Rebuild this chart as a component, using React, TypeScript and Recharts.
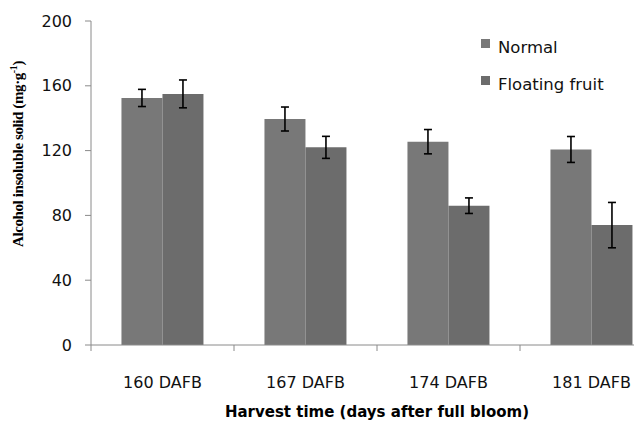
import {Bar, BarChart, ErrorBar, Label, Legend, XAxis, YAxis} from 'recharts'

const categories = ['160 DAFB', '167 DAFB', '174 DAFB', '181 DAFB']
const normal = [152.5, 139.5, 125.5, 120.7]
const normalErr = [5.3, 7.4, 7.5, 8]
const floating = [155, 122, 86, 74]
const floatingErr = [8.6, 6.8, 4.8, 14]
const yTicks = [0, 40, 80, 120, 160, 200]

const seriesNames = ['Normal', 'Floating fruit']
const seriesColors = ['#787878', '#6c6c6c']

const data = categories.map((name, i) => ({
  name,
  normal: normal[i],
  normalErr: normalErr[i],
  floating: floating[i],
  floatingErr: floatingErr[i]
}))

const sans = 'DejaVu Sans, sans-serif'
const axisColor = '#8a8a8a'

// tick label at the category centre, tick mark on the category boundary
const CategoryTick = (props: any) => {
  const {x, y, payload} = props
  const half = payload?.offset ?? 71.5
  return (
    <g>
      <line x1={x - half} y1={y} x2={x - half} y2={y + 6} stroke={axisColor} />
      <text x={x} y={y + 37} textAnchor='middle' dominantBaseline='central' fontFamily={sans} fontSize={16} fill='#111'>
        {payload.value}
      </text>
    </g>
  )
}

const XTitle = (props: any) => {
  const {x, width} = props.viewBox
  return (
    <text x={x + width / 2} y={417} textAnchor='middle' fontFamily={sans} fontWeight='bold' fontSize={15} fill='#000'>
      Harvest time (days after full bloom)
    </text>
  )
}

const YTitle = () => (
  <text
    x={18}
    y={154}
    transform='rotate(-90, 18, 154)'
    textAnchor='middle'
    dominantBaseline='central'
    fontFamily='Liberation Serif, serif'
    fontWeight='bold'
    fontSize={15}
    letterSpacing={-0.4}
    fill='#000'
  >
    Alcohol insoluble solid (mg·g
    <tspan dy={-5} fontSize={10}>-1</tspan>
    <tspan dy={5}>)</tspan>
  </text>
)

const renderLegend = () => (
  <div style={{fontFamily: sans, fontSize: 16.5, color: '#111'}}>
    {seriesNames.map((n, i) => (
      <div key={n} style={{position: 'relative', height: 37}}>
        <span style={{position: 'absolute', left: 0, top: 6, width: 9, height: 9, background: seriesColors[i]}} />
        <span style={{position: 'absolute', left: 17, top: 5, lineHeight: '20px', whiteSpace: 'nowrap'}}>{n}</span>
      </div>
    ))}
  </div>
)

export default function App() {
  return (
    <div style={{position: 'fixed', left: 0, top: 0, width: 634, height: 421, overflow: 'hidden', background: '#fff'}}>
      <BarChart
        width={670}
        height={421}
        data={data}
        margin={{top: 21, right: 7, left: 0, bottom: 16}}
        barCategoryGap='21.3%'
        barGap={0}
      >
        <XAxis
          dataKey='name'
          height={60}
          stroke={axisColor}
          tickLine={false}
          tickSize={0}
          tickMargin={0}
          tick={<CategoryTick />}
          interval={0}
        >
          <Label content={<XTitle />} />
        </XAxis>
        <YAxis
          width={91}
          domain={[0, 200]}
          ticks={yTicks}
          stroke={axisColor}
          tickSize={6}
          tickMargin={13}
          tick={{fill: '#111', fontFamily: sans, fontSize: 16}}
        >
          <Label content={<YTitle />} />
        </YAxis>
        <Legend
          layout='vertical'
          align='center'
          verticalAlign='middle'
          content={renderLegend}
          wrapperStyle={{left: 481, top: 33, width: 150}}
        />
        <Bar dataKey='normal' name={seriesNames[0]} fill={seriesColors[0]} isAnimationActive={false}>
          <ErrorBar dataKey='normalErr' width={4} stroke='#000' strokeWidth={1.6} />
        </Bar>
        <Bar dataKey='floating' name={seriesNames[1]} fill={seriesColors[1]} isAnimationActive={false}>
          <ErrorBar dataKey='floatingErr' width={4} stroke='#000' strokeWidth={1.6} />
        </Bar>
      </BarChart>
    </div>
  )
}
